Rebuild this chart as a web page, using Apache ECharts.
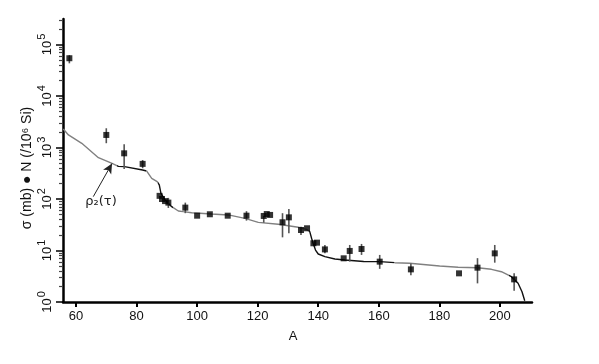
<!DOCTYPE html>
<html>
<head>
<meta charset="utf-8">
<script src="https://cdn.jsdelivr.net/npm/echarts@6/dist/echarts.min.js"></script>
<style>html,body{margin:0;padding:0;background:#fff}#c{width:599px;height:364px}</style>
</head>
<body>
<div id="c"></div>
<script>
// Measured points (mass number A, sigma*N)
const pointA   = [57.8, 70.0, 75.9, 82.0, 87.6, 88.4, 89.4, 90.5, 96.1, 100.0, 104.2, 110.1, 116.3, 122.0, 123.0, 124.1, 128.2, 130.3, 134.3, 136.3, 138.4, 139.6, 142.2, 148.4, 150.4, 154.3, 160.3, 170.6, 186.5, 192.6, 198.3, 204.7];
const pointVal = [54000, 1750, 770, 480, 115, 100, 91, 85, 68, 47.4, 50.5, 47.4, 47.4, 46.8, 51, 49, 35.3, 44, 25, 27, 13.8, 14.2, 10.5, 7.05, 9.8, 10.7, 6.07, 4.3, 3.6, 4.64, 8.8, 2.75];
const errLow   = [43000, 1210, 380, 395, null, null, null, 67, 53, null, null, null, 38, 34.6, null, null, 18, 21.6, 20, null, null, null, 8.8, null, 6.1, 8.2, 4.4, 3.3, null, 2.3, 5.8, 1.66];
const errHigh  = [62000, 2360, 1150, 570, null, null, null, 105, 85, null, null, null, 58, 46.8, null, null, 53, 64, 29, null, null, null, 12.8, null, 12.8, 13.4, 8.2, 5.6, null, 7.1, 12.8, 3.6];
// Calculated curve
const curveA   = [55.8, 57.5, 61.9, 67.4, 71.9, 74.0, 76.0, 82.0, 83.3, 85.0, 86.8, 87.5, 88.05, 89.4, 91.6, 93.8, 95.4, 98.2, 104.8, 110.3, 115.8, 120.2, 126.8, 133.4, 136.1, 137.2, 137.8, 138.3, 139.1, 140.0, 142.2, 145.5, 148.8, 155.0, 160.3, 165.3, 170.2, 180.1, 186.2, 192.6, 197.2, 200.5, 203.8, 206.0, 207.3, 208.2];
const curveVal = [2290, 1750, 1205, 633, 490, 430, 424, 366, 350, 252, 217, 187, 129, 96, 71, 58.5, 56.7, 54.2, 51.2, 49, 42, 35.2, 32.3, 28.2, 25.7, 23.2, 17.3, 13.8, 10.2, 8.55, 7.6, 6.84, 6.55, 6.1, 6.07, 5.8, 5.64, 5.0, 4.72, 4.63, 4.31, 3.87, 3.1, 2.31, 1.58, 1.06];
// Axis ticks
const xTicks = [60, 80, 100, 120, 140, 160, 180, 200];
const yTicks = [1, 10, 100, 1000, 10000, 100000];
const yMinorTicks = [];
for (const d of [1, 10, 100, 1000, 10000, 100000]) for (let m = 2; m <= 9; m++) if (m * d < 312000) yMinorTicks.push(m * d);

const pts = pointA.map((a, i) => [a, pointVal[i]]);
const bars = [];
pointA.forEach((a, i) => { if (errLow[i] != null) bars.push([a, errLow[i], errHigh[i]]); });
const curve = curveA.map((a, i) => [a, curveVal[i]]);

const FONT = 'Liberation Sans';
const chart = echarts.init(document.getElementById('c'));
chart.setOption({
  animation: false,
  backgroundColor: '#fff',
  grid: {left: 63, right: 67, top: 19, bottom: 62},
  xAxis: {
    type: 'value', min: 55.7, max: 210.6,
    axisLine: {lineStyle: {color: '#000', width: 2.5}},
    axisTick: {customValues: xTicks, length: 5, lineStyle: {color: '#000', width: 2}},
    axisLabel: {customValues: xTicks, color: '#111', fontFamily: FONT, fontSize: 13, margin: 8},
    splitLine: {show: false}
  },
  yAxis: [{
    type: 'log', min: 1, max: 312000, position: 'left',
    axisLine: {lineStyle: {color: '#000', width: 2.5}},
    axisTick: {customValues: yTicks, inside: false, length: 7, lineStyle: {color: '#000', width: 1.5}},
    axisLabel: {customValues: yTicks, rotate: 90, color: '#111', fontFamily: FONT, fontSize: 13, margin: 9,
      formatter: v => '{b|10}{s|' + Math.round(Math.log10(v)) + '}',
      rich: {
        b: {fontSize: 13, fontFamily: FONT, color: '#111', lineHeight: 18, verticalAlign: 'bottom'},
        s: {fontSize: 11, fontFamily: FONT, color: '#111', lineHeight: 18, verticalAlign: 'top', padding: [0, 0, 0, 1]}
      }},
    splitLine: {show: false}
  }, {
    type: 'log', min: 1, max: 312000, position: 'left',
    axisLine: {show: false},
    axisTick: {customValues: yMinorTicks, length: 4, lineStyle: {color: '#444', width: 1.2}},
    axisLabel: {show: false},
    splitLine: {show: false}
  }],
  visualMap: {
    show: false, type: 'piecewise', seriesIndex: 0, dimension: 0,
    pieces: [
      {lt: 73.5, color: '#808080'},
      {gte: 73.5, lt: 83, color: '#111'},
      {gte: 83, lt: 87, color: '#808080'},
      {gte: 87, lt: 92, color: '#111'},
      {gte: 92, lt: 137, color: '#808080'},
      {gte: 137, lt: 165, color: '#111'},
      {gte: 165, lt: 203, color: '#808080'},
      {gte: 203, color: '#111'}
    ]
  },
  series: [{
    type: 'line', data: curve, showSymbol: false, symbol: 'none', smooth: false,
    lineStyle: {width: 1.4}, z: 2
  }, {
    type: 'custom', data: bars, z: 3,
    renderItem: (params, api) => {
      const p1 = api.coord([api.value(0), api.value(1)]);
      const p2 = api.coord([api.value(0), api.value(2)]);
      return {type: 'line', shape: {x1: p1[0], y1: p1[1], x2: p2[0], y2: p2[1]},
        style: {stroke: '#555', lineWidth: 1.6}};
    }
  }, {
    type: 'scatter', data: pts, symbol: 'rect', symbolSize: 6,
    itemStyle: {color: '#000'}, z: 4,
    markLine: {
      silent: true, symbol: ['none', 'arrow'], symbolSize: [7, 10],
      label: {show: false},
      lineStyle: {color: '#222', width: 1, type: 'solid'},
      data: [[{coord: [65.7, 111]}, {coord: [71.9, 490]}]]
    }
  }],
  graphic: [{
    type: 'text', x: 101, y: 202, rotation: 0,
    style: {text: 'ρ₂(τ)', fill: '#222', font: '13px "DejaVu Sans"', align: 'center', verticalAlign: 'middle'}
  }, {
    type: 'text', x: 27, y: 168, rotation: Math.PI / 2,
    style: {text: 'σ (mb) ● N (/10⁶ Si)', fill: '#111', font: '14px "Liberation Sans"', align: 'center', verticalAlign: 'middle'}
  }, {
    type: 'text', x: 293, y: 336,
    style: {text: 'A', fill: '#111', font: '13px "Liberation Sans"', align: 'center', verticalAlign: 'middle'}
  }]
});
</script>
</body>
</html>
